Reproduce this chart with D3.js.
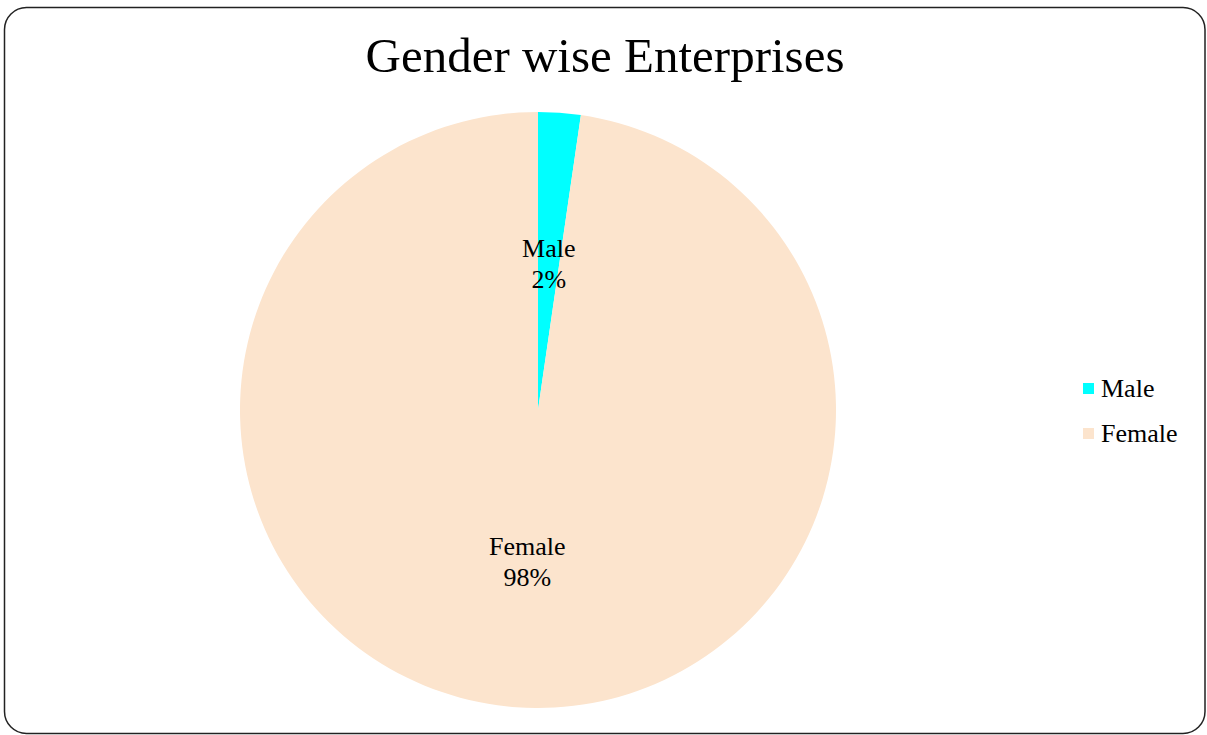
<!DOCTYPE html>
<html>
<head>
<meta charset="utf-8">
<script src="https://cdn.jsdelivr.net/npm/d3@7"></script>
<style>
  html, body { margin: 0; padding: 0; background: #fff; }
  svg { display: block; }
</style>
</head>
<body>
<svg id="chart" width="1207" height="735"></svg>
<script>
// Enterprise counts by gender of owner
const categories = ["Male", "Female"];
const values = [23, 977];
const colors = ["#00FFFF", "#FCE4CD"];
const title = "Gender wise Enterprises";

const svg = d3.select("#chart");
const W = 1207, H = 735;
const font = "'Liberation Serif', 'Times New Roman', serif";

// chart frame
svg.append("rect")
  .attr("x", 4.5).attr("y", 7.5)
  .attr("width", W - 6.5).attr("height", H - 9)
  .attr("rx", 22).attr("ry", 22)
  .attr("fill", "#fff")
  .attr("stroke", "#222").attr("stroke-width", 1.5);

svg.append("text")
  .attr("x", 605).attr("y", 72)
  .attr("text-anchor", "middle")
  .attr("font-family", font)
  .attr("font-size", 49)
  .attr("fill", "#000")
  .text(title);

const cx = 538, cy = 410, r = 298;
const data = categories.map((c, i) => ({ name: c, value: values[i], color: colors[i] }));
const total = d3.sum(values);

const pie = d3.pie().sort(null).value(d => d.value);
const arcs = pie(data);
const arc = d3.arc().innerRadius(0).outerRadius(r);
const labelArc = d3.arc().innerRadius(r * 0.5).outerRadius(r * 0.5);

const g = svg.append("g").attr("transform", `translate(${cx},${cy})`);

g.selectAll("path.slice")
  .data(arcs)
  .join("path")
  .attr("class", "slice")
  .attr("d", arc)
  .attr("fill", d => d.data.color);

const fmt = v => Math.round(v / total * 100) + "%";

const labels = g.selectAll("text.lbl")
  .data(arcs)
  .join("text")
  .attr("class", "lbl")
  .attr("transform", d => `translate(${labelArc.centroid(d)})`)
  .attr("text-anchor", "middle")
  .attr("font-family", font)
  .attr("font-size", 26)
  .attr("fill", "#000");

labels.append("tspan").attr("x", 0).attr("dy", "-0.15em").text(d => d.data.name);
labels.append("tspan").attr("x", 0).attr("dy", "1.19em").text(d => fmt(d.data.value));

// legend
const legend = svg.append("g").attr("transform", "translate(1083,383)");
const items = legend.selectAll("g")
  .data(data)
  .join("g")
  .attr("transform", (d, i) => `translate(0,${i * 45})`);
items.append("rect")
  .attr("width", 11).attr("height", 11)
  .attr("fill", d => d.color);
items.append("text")
  .attr("x", 18).attr("y", 14)
  .attr("font-family", font)
  .attr("font-size", 26)
  .attr("fill", "#000")
  .text(d => d.name);
</script>
</body>
</html>
